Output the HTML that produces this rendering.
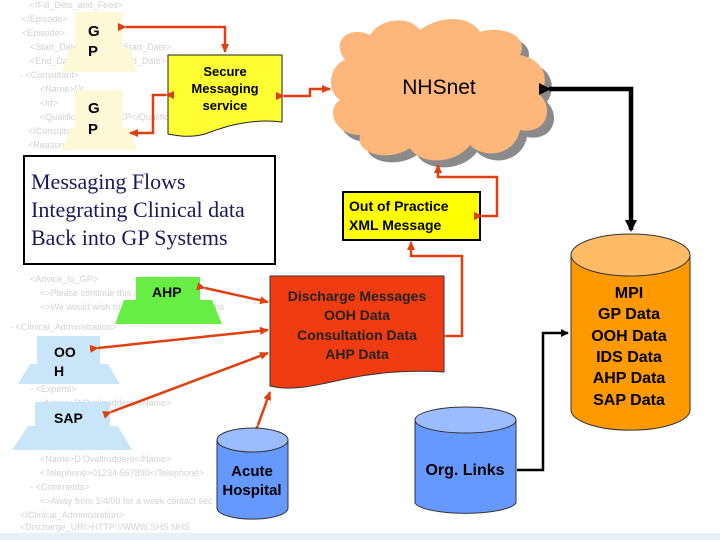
<!DOCTYPE html>
<html><head><meta charset="utf-8"><style>
html,body{margin:0;padding:0;background:#fff;}
svg{display:block;font-family:"Liberation Sans",sans-serif;}
.x{font-size:9px;fill:#d2d2d2;}
</style></head><body>
<svg width="720" height="540" viewBox="0 0 720 540" xmlns="http://www.w3.org/2000/svg">
<defs>
<marker id="ra" markerWidth="9" markerHeight="8" refX="8" refY="4" orient="auto" markerUnits="userSpaceOnUse"><path d="M0,0 L9,4 L0,8z" fill="#e04010"/></marker>
<marker id="ba" markerWidth="12" markerHeight="12" refX="10" refY="6" orient="auto" markerUnits="userSpaceOnUse"><path d="M0,0 L12,6 L0,12z" fill="#000"/></marker>
<marker id="bs" markerWidth="8" markerHeight="8" refX="7" refY="4" orient="auto" markerUnits="userSpaceOnUse"><path d="M0,0 L8,4 L0,8z" fill="#000"/></marker>
</defs>
<g class="x">
<text x="30" y="8">&lt;/Fill_Dets_and_Fees&gt;</text>
<text x="22" y="22">&lt;/Episode&gt;</text>
<text x="22" y="36">&lt;Episode&gt;</text>
<text x="30" y="50">&lt;Start_Date&gt; 11/8/00&lt;/Start_Date&gt;</text>
<text x="30" y="64">&lt;End_Date&gt; 16/8/00&lt;/End_Date&gt;</text>
<text x="20" y="78">- &lt;Consultant&gt;</text>
<text x="40" y="92">&lt;Name&gt;Dr</text>
<text x="40" y="106">&lt;Id&gt;</text>
<text x="40" y="120">&lt;Qualifications&gt;MRCP&lt;/Qualifications&gt;</text>
<text x="28" y="134">&lt;/Consultant&gt;</text>
<text x="28" y="148">&lt;Reason_for&gt;</text>
<text x="30" y="282">&lt;Advice_to_GP&gt;</text>
<text x="40" y="296">&lt;&gt;Please continue this and antibiotic for</text>
<text x="40" y="310">&lt;&gt;We would wish to understand a few months</text>
<text x="10" y="330">- &lt;Clinical_Administration&gt;</text>
<text x="30" y="392">- &lt;Experts&gt;</text>
<text x="40" y="406">&lt;Name&gt;D'Ovaltrudders&lt;/Name&gt;</text>
<text x="40" y="462">&lt;Name&gt;D'Ovaltrudders&lt;/Name&gt;</text>
<text x="40" y="476">&lt;Telephone&gt;01234 567890&lt;/Telephone&gt;</text>
<text x="30" y="490">- &lt;Comments&gt;</text>
<text x="40" y="504">&lt;&gt;Away from 1/4/00 for a week contact sec</text>
<text x="20" y="518">&lt;/Clinical_Administration&gt;</text>
<text x="20" y="530">&lt;Discharge_URI&gt;HTTP://WWW.SHS.NHS</text>
</g>
<rect x="0" y="533" width="720" height="7" fill="#e6f0f6"/>

<g fill="#fdf8d6">
<rect x="75" y="12" width="48" height="38"/><path d="M62,72 L70,48 L130,48 L137,72z"/>
<rect x="75" y="90" width="48" height="40"/><path d="M62,150 L70,128 L130,128 L137,150z"/>
</g>
<g font-weight="bold" font-size="15" fill="#000">
<text x="88" y="36">G</text><text x="88" y="56">P</text>
<text x="88" y="113">G</text><text x="88" y="134">P</text>
</g>

<path d="M168,55 L282,55 L282,122 C250,118 220,128 205,134 C190,138 178,136 168,134 Z" fill="#ffff33" stroke="#222" stroke-width="1"/>
<g font-weight="bold" font-size="13" text-anchor="middle"><text x="225" y="76">Secure</text><text x="225" y="93">Messaging</text><text x="225" y="110">service</text></g>

<g stroke="#e04010" stroke-width="2.5" fill="none">
<path d="M126,27 L225,27 L225,52" marker-end="url(#ra)" marker-start="url(#ra)"/>
<path d="M166,95 L153,95 L153,133 L130,133" marker-end="url(#ra)" marker-start="url(#ra)"/>
<path d="M284,96 L310,96 L310,89 L330,89" marker-end="url(#ra)" marker-start="url(#ra)"/>
</g>

<g transform="translate(7,7)" fill="#8a8a8a">
<path d="M345,60 C330,40 350,25 370,35 C380,18 410,15 420,30 C440,15 470,15 480,32 C500,25 530,35 520,55 C545,60 550,80 540,95 C555,110 545,135 520,130 C515,155 485,160 470,145 C455,165 420,165 410,148 C390,162 355,155 360,135 C335,135 325,110 340,100 C325,90 330,65 345,60Z"/>
</g>
<path d="M345,60 C330,40 350,25 370,35 C380,18 410,15 420,30 C440,15 470,15 480,32 C500,25 530,35 520,55 C545,60 550,80 540,95 C555,110 545,135 520,130 C515,155 485,160 470,145 C455,165 420,165 410,148 C390,162 355,155 360,135 C335,135 325,110 340,100 C325,90 330,65 345,60Z" fill="#fdb77a"/>
<text x="439" y="94" font-size="21" text-anchor="middle">NHSnet</text>

<path d="M549,89 L631,89 L631,230" stroke="#000" stroke-width="4.5" fill="none" marker-end="url(#ba)" marker-start="url(#ba)"/>

<rect x="24" y="156" width="251" height="108" fill="#fff" fill-opacity="0.85" stroke="#000" stroke-width="2"/>
<g font-family="'Liberation Serif',serif" font-size="22" fill="#1a1a5a"><text x="31" y="189">Messaging Flows</text><text x="31" y="217">Integrating Clinical data</text><text x="31" y="245">Back into GP Systems</text></g>

<rect x="343" y="192" width="137" height="48" fill="#ffff00" stroke="#000" stroke-width="2"/>
<g font-weight="bold" font-size="14"><text x="349" y="211">Out of Practice</text><text x="349" y="230">XML Message</text></g>
<g stroke="#e04010" stroke-width="2.5" fill="none">
<path d="M482,216 L497,216 L497,177 L438,177 L438,165" marker-start="url(#ra)" marker-end="url(#ra)"/>
<path d="M446,336 L462,336 L462,256 L411,256 L411,242" marker-start="url(#ra)" marker-end="url(#ra)"/>
</g>

<path d="M270,276 L444,276 L444,372 C410,370 380,372 350,378 C320,384 295,392 270,386 Z" fill="#f03c10" stroke="#333" stroke-width="1"/>
<g font-weight="bold" font-size="14" fill="#222" text-anchor="middle"><text x="357" y="301">Discharge Messages</text><text x="357" y="320">OOH Data</text><text x="357" y="340">Consultation Data</text><text x="357" y="359">AHP Data</text></g>

<g fill="#66ee44"><rect x="136" y="277" width="64" height="26"/><path d="M115,324 L124,300 L212,300 L222,324z"/></g>
<text x="152" y="297" font-weight="bold" font-size="14">AHP</text>
<g fill="#c8e6f8">
<rect x="37" y="336" width="63" height="36"/><path d="M18,384 L30,364 L108,364 L120,384z"/>
<rect x="35" y="402" width="75" height="30"/><path d="M12,450 L28,426 L118,426 L132,450z"/>
</g>
<g font-weight="bold" font-size="14"><text x="54" y="357">OO</text><text x="54" y="376">H</text><text x="54" y="423">SAP</text></g>

<g stroke="#e04010" stroke-width="2.5" fill="none">
<path d="M205,288 L268,302" marker-start="url(#ra)" marker-end="url(#ra)"/>
<path d="M98,348 L268,330" marker-start="url(#ra)" marker-end="url(#ra)"/>
<path d="M111,412 L268,353" marker-start="url(#ra)" marker-end="url(#ra)"/>
<path d="M258,425 L270,392" marker-start="url(#ra)" marker-end="url(#ra)"/>
</g>

<path d="M217,440 L217,508 A35,11 0 0 0 288,508 L288,440 Z" fill="#6699ff" stroke="#333"/>
<ellipse cx="252.5" cy="440" rx="35.5" ry="12" fill="#9bbcff" stroke="#333"/>
<g font-weight="bold" font-size="15" text-anchor="middle"><text x="252" y="476">Acute</text><text x="252" y="495">Hospital</text></g>

<path d="M415,420 L415,503 A51,12 0 0 0 516,503 L516,420 Z" fill="#6699ff" stroke="#333"/>
<ellipse cx="465.5" cy="420" rx="50.5" ry="13" fill="#9bbcff" stroke="#333"/>
<text x="465" y="475" font-weight="bold" font-size="16" text-anchor="middle">Org. Links</text>
<path d="M517,470 L543,470 L543,333 L568,333" stroke="#000" stroke-width="2.5" fill="none" marker-end="url(#bs)"/>

<path d="M571,255 L571,410 A59,20 0 0 0 690,410 L690,255 Z" fill="#ff9900" stroke="#333"/>
<ellipse cx="630.5" cy="255" rx="59.5" ry="21" fill="#ffbb66" stroke="#333"/>
<g font-weight="bold" font-size="16" text-anchor="middle"><text x="629" y="298">MPI</text><text x="629" y="319">GP Data</text><text x="629" y="341">OOH Data</text><text x="629" y="362">IDS Data</text><text x="629" y="383">AHP Data</text><text x="629" y="405">SAP Data</text></g>
</svg>
</body></html>
